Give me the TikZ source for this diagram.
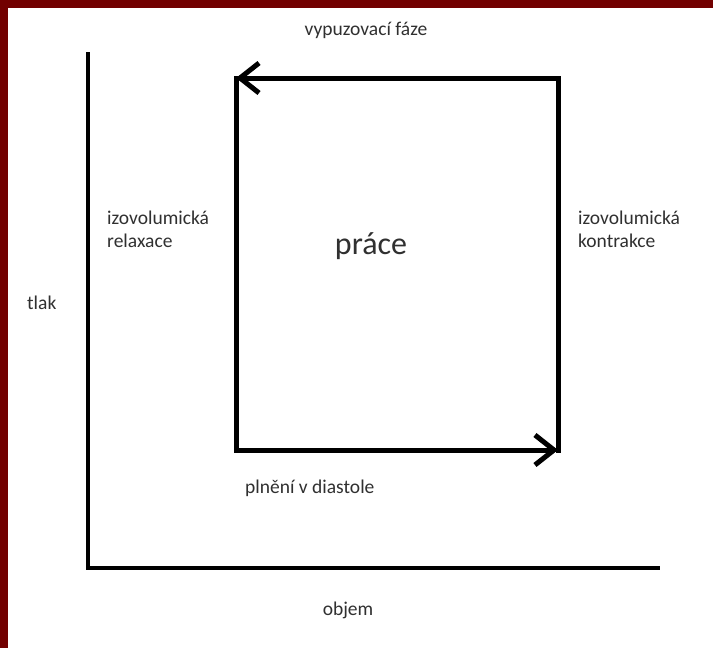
\documentclass[tikz,border=0pt]{standalone}
\usepackage{fontspec}
\setmainfont{Carlito}
\usetikzlibrary{arrows.meta}
\definecolor{frame}{HTML}{720000}
\definecolor{ink}{HTML}{303030}
\tikzset{
  phase/.style={font=\fontsize{19.5}{23}\selectfont, text=ink, align=left, inner sep=0pt},
  work/.style={font=\fontsize{32}{36}\selectfont, text=ink, inner sep=0pt},
  axis/.style={line width=4pt, line cap=butt},
  loopside/.style={line width=5pt, line cap=rect},
  turn/.style={-{Straight Barb[length=19pt,width=30pt]}}
}

\begin{document}
\begin{tikzpicture}[x=1pt,y=-1pt]
  \useasboundingbox (0,0) rectangle (713,648);
  \fill[white] (0,0) rectangle (713,648);
  \fill[frame] (0,0) rectangle (713,7.5);
  \fill[frame] (0,0) rectangle (8,648);

  % axes
  \coordinate (top) at (88,52);
  \coordinate (origin) at (88,568);
  \coordinate (right) at (660,568);
  \draw[axis] (top) -- (origin) -- (right);

  % cycle
  \coordinate (tl) at (236,78);
  \coordinate (tr) at (558,78);
  \coordinate (bl) at (236,450);
  \coordinate (br) at (558,450);
  \draw[loopside,turn] (tr) -- (tl);
  \draw[loopside] (tl) -- (bl);
  \draw[loopside,turn] (bl) -- (br);
  \draw[loopside] (br) -- (tr);

  % labels
  \node[phase] (eject) at (366,30) {vypuzovací fáze};
  \node[phase,anchor=west] (relax) at (107,229) {izovolumická\\relaxace};
  \node[phase,anchor=west] (contr) at (578,229) {izovolumická\\kontrakce};
  \node[work] (area) at (371,246) {práce};
  \node[phase,anchor=west] (press) at (27,303) {tlak};
  \node[phase,anchor=west] (fill) at (245,488) {plnění v diastole};
  \node[phase] (vol) at (348,610) {objem};
\end{tikzpicture}
\end{document}
